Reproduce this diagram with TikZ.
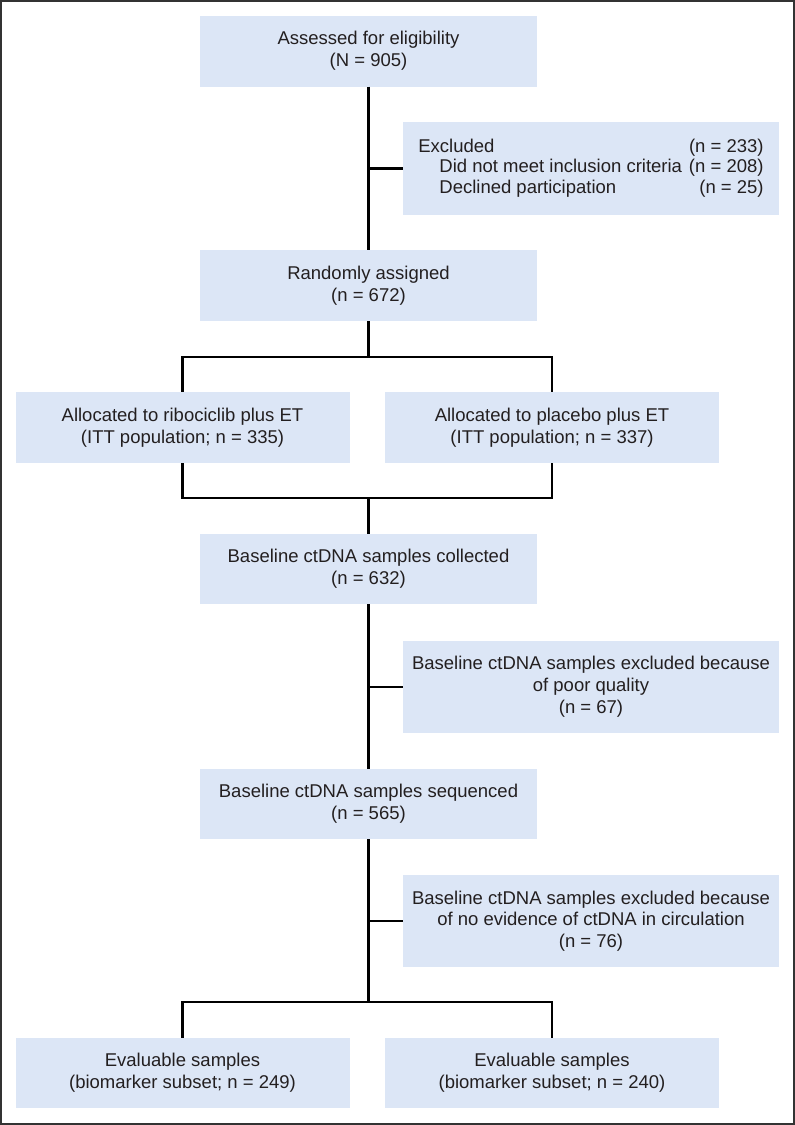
\documentclass[tikz,border=0pt]{standalone}
\usepackage{fontspec}
\setmainfont{Liberation Sans}
\definecolor{boxblue}{HTML}{DCE6F6}
\definecolor{textc}{HTML}{231F20}
\definecolor{framec}{HTML}{333333}
\begin{document}
\begin{tikzpicture}[x=1pt,y=-1pt,
  box/.style={fill=boxblue, inner sep=0pt, align=center, text=textc,
    font=\fontsize{18.5}{21.8}\selectfont},
  midbox/.style={box, minimum width=337pt, minimum height=71pt},
  sidebox/.style={box, minimum width=334pt, minimum height=71pt},
  exbox/.style={box, minimum width=376pt, minimum height=92pt},
  conn/.style={draw=black, line width=2.2pt}]
\useasboundingbox (0,0) rectangle (795,1125);
\draw[framec, line width=1.6pt] (1,1) rectangle (794,1124);

\node[midbox] (A) at (368.5,51) {Assessed for eligibility\\(N = 905)};
\node[exbox, minimum height=93pt] (E1) at (591,168.5) {};
\node[text=textc, inner sep=0pt, font=\fontsize{18.5}{20.5}\selectfont] (E1t) at (E1.center)
  {\begin{tabular}{@{}l@{\hspace{7pt}}r@{}}
   Excluded & (n = 233)\\
   \hspace{21pt}Did not meet inclusion criteria & (n = 208)\\
   \hspace{21pt}Declined participation & (n = 25)
   \end{tabular}};
\node[midbox] (R) at (368.5,285.5) {Randomly assigned\\(n = 672)};
\node[sidebox] (L1) at (182.5,427.5) {Allocated to ribociclib plus ET\\(ITT population; n = 335)};
\node[sidebox] (R1) at (552,427.5) {Allocated to placebo plus ET\\(ITT population; n = 337)};
\node[midbox, minimum height=70pt] (C) at (368.5,569) {Baseline ctDNA samples collected\\(n = 632)};
\node[exbox] (E2) at (591,687) {Baseline ctDNA samples excluded because\\of poor quality\\(n = 67)};
\node[midbox, minimum height=70pt] (S) at (368.5,804) {Baseline ctDNA samples sequenced\\(n = 565)};
\node[exbox] (E3) at (591,921) {Baseline ctDNA samples excluded because\\of no evidence of ctDNA in circulation\\(n = 76)};
\node[sidebox, minimum height=70pt] (L2) at (182.5,1073) {Evaluable samples\\(biomarker subset; n = 249)};
\node[sidebox, minimum height=70pt] (R2) at (552,1073) {Evaluable samples\\(biomarker subset; n = 240)};

\coordinate (s1) at (368.5,357);
\coordinate (m1) at (368.5,498);
\coordinate (s2) at (368.5,1002);

\draw[conn] (A.south) -- (R.north);
\draw[conn] (A.south |- E1.west) -- (E1.west);
\draw[conn] (R.south) -- (s1);
\draw[conn] (L1.north) -- (L1.north |- s1) -- (R1.north |- s1) -- (R1.north);
\draw[conn] (L1.south) -- (L1.south |- m1) -- (R1.south |- m1) -- (R1.south);
\draw[conn] (m1) -- (C.north);
\draw[conn] (C.south) -- (S.north);
\draw[conn] (C.south |- E2.west) -- (E2.west);
\draw[conn] (S.south) -- (s2);
\draw[conn] (S.south |- E3.west) -- (E3.west);
\draw[conn] (L2.north) -- (L2.north |- s2) -- (R2.north |- s2) -- (R2.north);
\end{tikzpicture}
\end{document}
